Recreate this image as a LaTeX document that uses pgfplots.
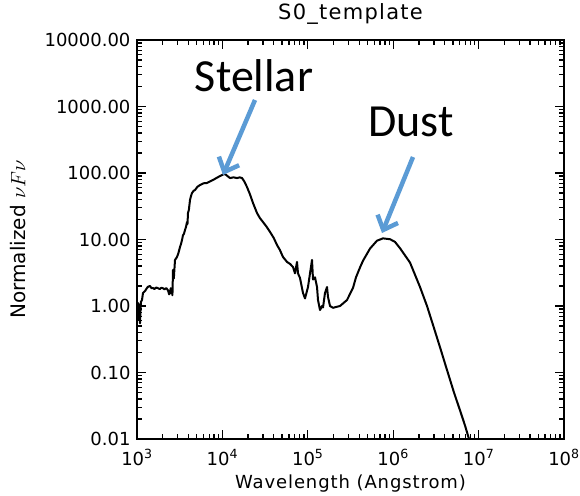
\documentclass[border=0pt]{standalone}
\usepackage{pgfplots}
\pgfplotsset{compat=1.18}
\usepackage{fontspec}
\setmainfont{DejaVu Sans}
\newfontfamily\titlefont[LetterSpace=6]{DejaVu Sans}
\newfontfamily\labelfont[LetterSpace=5]{DejaVu Sans}
\newfontfamily\calloutfont{Carlito}
\usetikzlibrary{arrows.meta}
\definecolor{callout}{RGB}{91,155,213}

% S0 galaxy template SED: wavelength (Angstrom) vs normalized nu F_nu
\pgfplotstableread{
lambda  nufnu
1000    0.97
1010    0.75
1027    1.11
1050    0.62
1070    1.05
1084    0.55
1110    1.15
1144    1.23
1176    1.57
1250    1.70
1309    1.87
1350    1.95
1420    2.00
1480    1.85
1539    1.87
1600    1.80
1680    1.90
1762    1.85
1850    1.80
1930    1.88
2016    1.85
2100    1.78
2200    1.86
2307    1.72
2380    1.50
2434    1.57
2480    1.85
2530    1.55
2569    1.87
2600    1.45
2640    3.48
2700    2.60
2786    4.92
2940    5.46
3050    6.20
3187    7.71
3280    8.60
3365    9.80
3450    11.5
3548    12.2
3648    13.9
3750    15.5
3850    18.3
3900    17.0
3956    25.0
4050    28.0
4175    39.3
4290    45.0
4406    50.0
4600    54.0
4777    55.5
5100    62.0
5468    66.0
6000    70.0
6602    70.8
7200    75.0
7762    78.5
8500    84.0
9375    90.0
9900    93.0
10440   96.6
11000   94.0
12270   84.0
13500   86.0
14830   84.0
16000   86.0
16960   84.0
18000   75.0
19420   61.5
21000   48.0
22820   35.4
25420   25.0
27500   21.0
29880   18.3
33000   15.5
36100   13.0
40000   10.5
43590   8.26
47000   7.00
51230   5.46
57070   4.60
61900   4.30
67100   3.86
70800   3.10
74740   4.60
76780   3.10
81040   2.64
87870   1.57
92740   1.30
100500  1.93
112000  4.92
115100  2.50
121400  2.70
128200  1.93
131700  1.23
139000  0.87
146700  1.00
150700  0.95
159000  1.57
167800  1.93
172400  1.37
182000  1.00
197300  0.94
238300  1.00
287700  1.23
338200  1.87
366700  2.70
408600  3.80
443100  4.80
535000  7.30
646000  9.60
760000  10.4
917500  10.1
1050000 9.20
1201000 7.40
1573000 4.50
2060000 1.93
2488000 1.00
2924000 0.52
3532000 0.24
4266000 0.109
5151000 0.050
6055000 0.027
6929000 0.016
7720000 0.0100
8370000 0.0075
}\sedtable

\begin{document}
\begin{tikzpicture}
\begin{axis}[
  at={(0pt,0pt)}, anchor=south west,
  scale only axis, width=427pt, height=399pt,
  xmode=log, ymode=log,
  xmin=1e3, xmax=1e8, ymin=1e-2, ymax=1e4,
  xtick={1e3,1e4,1e5,1e6,1e7,1e8},
  xticklabels={10\textsuperscript{3},10\textsuperscript{4},10\textsuperscript{5},10\textsuperscript{6},10\textsuperscript{7},10\textsuperscript{8}},
  ytick={1e-2,1e-1,1,1e1,1e2,1e3,1e4},
  yticklabels={0.01,0.10,1.00,10.00,100.00,1000.00,10000.00},
  tick align=inside,
  xtick pos=both, ytick pos=both,
  major tick length=8pt, minor tick length=4pt,
  tick style={black, line width=1pt},
  axis line style={line width=1.2pt},
  ticklabel style={font=\fontsize{18}{20}\selectfont},
  xticklabel style={anchor=base, yshift=-26pt},
  yticklabel style={xshift=-3pt},
  title={S0\_template},
  title style={font=\titlefont\fontsize{21}{23}\selectfont,
    at={(axis description cs:0.5,1.0351)}, anchor=base},
  xlabel={Wavelength (Angstrom)},
  xlabel style={font=\labelfont\fontsize{18}{20}\selectfont,
    at={(axis description cs:0.5,-0.1228)}, anchor=base},
  ylabel={Normalized $\nu F\nu$},
  ylabel style={font=\fontsize{20}{22}\selectfont,
    at={(axis description cs:-0.2787,0.5)}, anchor=center},
]
\addplot[black, line width=2pt, line join=round] table[x=lambda, y=nufnu] {\sedtable};
\end{axis}

% inward tick marks on all four sides of the 427pt x 399pt box
% (one decade = 85.4pt along x, 66.5pt along y)
\begin{scope}[black, line width=1.3pt]
\foreach \e in {0,...,4}{
  \foreach \m in {2,...,9}{
    \pgfmathsetmacro{\xx}{85.4*(\e+log10(\m))}
    \draw (\xx pt,0pt) -- (\xx pt,5pt);
    \draw (\xx pt,399pt) -- (\xx pt,394pt);
  }
}
\foreach \e in {1,...,4}{
  \pgfmathsetmacro{\xx}{85.4*\e}
  \draw (\xx pt,0pt) -- (\xx pt,9pt);
  \draw (\xx pt,399pt) -- (\xx pt,390pt);
}
\foreach \e in {0,...,5}{
  \foreach \m in {2,...,9}{
    \pgfmathsetmacro{\yy}{66.5*(\e+log10(\m))}
    \draw (0pt,\yy pt) -- (5pt,\yy pt);
    \draw (427pt,\yy pt) -- (422pt,\yy pt);
  }
}
\foreach \e in {1,...,5}{
  \pgfmathsetmacro{\yy}{66.5*\e}
  \draw (0pt,\yy pt) -- (9pt,\yy pt);
  \draw (427pt,\yy pt) -- (418pt,\yy pt);
}
\end{scope}

% callouts marking the two emission peaks
\node[font=\calloutfont\fontsize{46}{50}\selectfont, anchor=base] at (117pt,347pt) {Stellar};
\node[font=\calloutfont\fontsize{46}{50}\selectfont, anchor=base] at (274pt,302pt) {Dust};
\draw[callout, line width=4.5pt, -{Straight Barb[length=12pt,width=22pt]}] (118pt,339pt) -- (86pt,264pt);
\draw[callout, line width=4.5pt, -{Straight Barb[length=12pt,width=22pt]}] (276pt,282pt) -- (245pt,206pt);

\pgfresetboundingbox
\path[use as bounding box] (-137pt,-56pt) rectangle (443pt,439pt);
\end{tikzpicture}
\end{document}
